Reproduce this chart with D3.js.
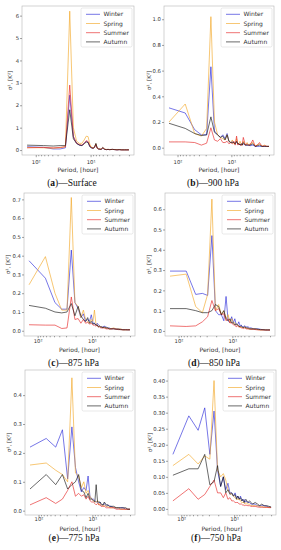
<!DOCTYPE html>
<html>
<head>
<meta charset="utf-8">
<script src="https://cdn.jsdelivr.net/npm/d3@7"></script>
<style>
  body { margin: 0; background: #fff; }
  svg { display: block; }
</style>
</head>
<body>
<script>
// periods of the spectrum, hours (144 / k)
const PERIODS = [144, 72, 48, 36, 28.8, 24, 20.6, 18, 16, 14.4, 13.1, 12, 11.1, 10.3, 9.6, 9, 8.5, 8,
  7.6, 7.2, 6.9, 6.5, 6.3, 6, 5.5, 5.1, 4.8, 4.5, 4, 3.6, 3.3, 3, 2.7, 2.4, 2.2, 2];

const SEASONS = ['Winter', 'Spring', 'Summer', 'Autumn'];

// one list per season, in SEASONS order
const SURFACE = [
  [0.15,0.12,0.05,0.05,0.1,2.45,0.6,0.3,0.22,0.2,0.3,0.4,0.35,0.15,0.1,0.08,0.12,0.25,0.1,0.05,0.04,0.03,0.04,0.08,0.03,0.02,0.03,0.02,0.03,0.02,0.01,0.02,0.01,0.01,0.01,0.01],
  [0.12,0.1,0.08,0.1,0.15,6.2,1.0,0.4,0.3,0.3,0.45,0.62,0.6,0.25,0.12,0.1,0.15,0.28,0.1,0.06,0.05,0.04,0.05,0.1,0.04,0.03,0.03,0.02,0.03,0.02,0.02,0.02,0.01,0.01,0.01,0.01],
  [0.1,0.12,0.1,0.12,0.15,2.9,0.6,0.3,0.25,0.22,0.3,0.42,0.38,0.18,0.1,0.08,0.12,0.25,0.08,0.05,0.05,0.04,0.05,0.1,0.03,0.02,0.03,0.02,0.03,0.02,0.01,0.02,0.01,0.01,0.01,0.01],
  [0.22,0.2,0.18,0.2,0.2,1.8,0.5,0.3,0.22,0.2,0.28,0.36,0.33,0.15,0.1,0.08,0.12,0.3,0.1,0.05,0.04,0.03,0.04,0.12,0.03,0.02,0.03,0.02,0.03,0.02,0.01,0.02,0.01,0.01,0.01,0.01]
];
const HPA_900 = [
  [0.31,0.27,0.14,0.1,0.1,0.63,0.13,0.1,0.08,0.1,0.07,0.11,0.05,0.04,0.05,0.04,0.03,0.04,0.03,0.03,0.02,0.03,0.02,0.03,0.02,0.02,0.02,0.015,0.02,0.01,0.01,0.01,0.01,0.01,0.01,0.01],
  [0.2,0.34,0.11,0.09,0.15,1.02,0.2,0.1,0.08,0.07,0.06,0.1,0.05,0.04,0.06,0.03,0.03,0.07,0.03,0.03,0.05,0.02,0.02,0.05,0.02,0.04,0.02,0.03,0.04,0.015,0.02,0.03,0.01,0.02,0.01,0.01],
  [0.045,0.045,0.04,0.02,0.035,0.155,0.06,0.05,0.07,0.04,0.04,0.05,0.03,0.04,0.03,0.05,0.02,0.09,0.02,0.03,0.02,0.02,0.02,0.08,0.02,0.03,0.02,0.02,0.06,0.01,0.02,0.04,0.01,0.015,0.01,0.01],
  [0.19,0.15,0.11,0.095,0.1,0.24,0.12,0.1,0.08,0.09,0.06,0.1,0.05,0.04,0.04,0.04,0.03,0.05,0.03,0.03,0.02,0.03,0.02,0.04,0.02,0.02,0.02,0.02,0.03,0.01,0.015,0.02,0.01,0.01,0.01,0.01]
];
const HPA_875 = [
  [0.373,0.28,0.15,0.115,0.115,0.43,0.15,0.12,0.07,0.09,0.05,0.06,0.05,0.085,0.04,0.04,0.03,0.04,0.03,0.025,0.02,0.02,0.02,0.025,0.02,0.015,0.015,0.01,0.012,0.01,0.01,0.008,0.006,0.006,0.005,0.005],
  [0.245,0.395,0.2,0.11,0.11,0.71,0.15,0.13,0.07,0.11,0.06,0.05,0.04,0.06,0.05,0.11,0.04,0.03,0.02,0.025,0.02,0.02,0.015,0.02,0.015,0.015,0.01,0.01,0.015,0.01,0.01,0.01,0.005,0.005,0.005,0.005],
  [0.032,0.03,0.03,0.012,0.015,0.18,0.06,0.065,0.04,0.06,0.04,0.045,0.035,0.04,0.03,0.03,0.025,0.03,0.02,0.02,0.015,0.015,0.015,0.015,0.01,0.01,0.01,0.01,0.01,0.008,0.006,0.006,0.005,0.005,0.005,0.005],
  [0.135,0.12,0.1,0.095,0.1,0.145,0.08,0.13,0.08,0.06,0.05,0.07,0.04,0.05,0.035,0.04,0.03,0.03,0.02,0.025,0.02,0.02,0.015,0.02,0.015,0.015,0.01,0.01,0.01,0.008,0.008,0.006,0.005,0.005,0.005,0.005]
];
const HPA_850 = [
  [0.295,0.295,0.18,0.185,0.175,0.47,0.1,0.08,0.08,0.05,0.17,0.05,0.04,0.07,0.04,0.06,0.03,0.03,0.045,0.025,0.03,0.02,0.02,0.025,0.02,0.02,0.015,0.015,0.01,0.01,0.01,0.008,0.006,0.005,0.005,0.005],
  [0.27,0.28,0.12,0.09,0.18,0.65,0.1,0.13,0.08,0.1,0.06,0.08,0.04,0.06,0.04,0.04,0.03,0.03,0.02,0.02,0.02,0.015,0.015,0.02,0.015,0.01,0.01,0.01,0.01,0.008,0.006,0.005,0.005,0.005,0.005,0.005],
  [0.025,0.022,0.025,0.045,0.07,0.15,0.1,0.11,0.08,0.085,0.05,0.06,0.04,0.04,0.03,0.03,0.02,0.025,0.02,0.02,0.015,0.015,0.012,0.015,0.01,0.01,0.01,0.008,0.008,0.006,0.005,0.005,0.005,0.004,0.004,0.004],
  [0.11,0.11,0.1,0.09,0.09,0.1,0.13,0.12,0.08,0.1,0.06,0.05,0.06,0.04,0.04,0.03,0.035,0.03,0.025,0.02,0.025,0.02,0.015,0.02,0.015,0.015,0.01,0.01,0.01,0.01,0.008,0.006,0.006,0.005,0.005,0.005]
];
const HPA_775 = [
  [0.22,0.25,0.22,0.28,0.11,0.29,0.15,0.1,0.065,0.08,0.07,0.12,0.05,0.04,0.04,0.035,0.03,0.03,0.025,0.03,0.02,0.02,0.02,0.025,0.015,0.02,0.015,0.015,0.01,0.01,0.01,0.01,0.01,0.005,0.005,0.005],
  [0.158,0.165,0.14,0.125,0.1,0.46,0.13,0.12,0.08,0.1,0.06,0.07,0.05,0.04,0.035,0.03,0.03,0.035,0.02,0.025,0.02,0.02,0.015,0.02,0.015,0.015,0.01,0.01,0.01,0.01,0.01,0.005,0.005,0.005,0.005,0.005],
  [0.02,0.045,0.025,0.04,0.07,0.1,0.05,0.06,0.05,0.055,0.04,0.05,0.035,0.03,0.03,0.025,0.02,0.025,0.02,0.02,0.015,0.015,0.015,0.015,0.01,0.01,0.01,0.01,0.01,0.005,0.005,0.005,0.005,0.005,0.005,0.005],
  [0.075,0.125,0.09,0.125,0.075,0.09,0.1,0.125,0.07,0.065,0.045,0.06,0.04,0.04,0.035,0.03,0.09,0.03,0.03,0.03,0.025,0.02,0.02,0.03,0.02,0.02,0.015,0.015,0.015,0.01,0.01,0.01,0.01,0.01,0.005,0.005]
];
const HPA_750 = [
  [0.17,0.29,0.245,0.315,0.17,0.305,0.12,0.07,0.1,0.06,0.08,0.05,0.05,0.04,0.05,0.035,0.04,0.03,0.04,0.03,0.025,0.03,0.02,0.025,0.02,0.02,0.015,0.015,0.015,0.01,0.01,0.01,0.01,0.008,0.005,0.005],
  [0.135,0.17,0.14,0.165,0.155,0.4,0.12,0.1,0.11,0.09,0.06,0.05,0.045,0.04,0.035,0.03,0.03,0.03,0.025,0.02,0.02,0.02,0.015,0.02,0.015,0.015,0.01,0.01,0.01,0.01,0.008,0.008,0.005,0.005,0.005,0.005],
  [0.025,0.063,0.03,0.045,0.07,0.09,0.05,0.05,0.035,0.05,0.03,0.035,0.025,0.025,0.02,0.02,0.02,0.015,0.015,0.015,0.012,0.012,0.01,0.012,0.01,0.01,0.008,0.008,0.008,0.006,0.005,0.005,0.005,0.005,0.004,0.004],
  [0.105,0.125,0.125,0.17,0.075,0.085,0.135,0.07,0.1,0.05,0.06,0.045,0.05,0.04,0.045,0.03,0.04,0.03,0.035,0.025,0.03,0.02,0.025,0.03,0.02,0.025,0.02,0.015,0.02,0.015,0.01,0.015,0.01,0.01,0.008,0.006]
];

const X_TICKS = [100, 10];
const X_TICK_LABELS = ['10\u00b2', '10\u00b9'];
const X_MINOR = [2, 3, 4, 5, 6, 7, 8, 9, 20, 30, 40, 50, 60, 70, 80, 90];

const Y_TICKS_SURFACE = [0, 1, 2, 3, 4, 5, 6];
const Y_TICKS_900 = [0, 0.2, 0.4, 0.6, 0.8, 1.0];
const Y_TICKS_875 = [0, 0.1, 0.2, 0.3, 0.4, 0.5, 0.6, 0.7];
const Y_TICKS_850 = [0, 0.1, 0.2, 0.3, 0.4, 0.5, 0.6];
const Y_TICKS_775 = [0, 0.1, 0.2, 0.3, 0.4];
const Y_TICKS_750 = [0, 0.05, 0.1, 0.15, 0.2, 0.25, 0.3, 0.35, 0.4];

const CAPTION_LETTERS = ['a', 'b', 'c', 'd', 'e', 'f'];
const CAPTION_NAMES = ['Surface', '900 hPa', '875 hPa', '850 hPa', '775 hPa', '750 hPa'];

const COLORS = ['#2626d9', '#f2a623', '#e62222', '#111111'];

const W = 281, H = 550;

// layout of each subplot (frame in px, y range, label offsets)
const PANELS = [
  { L: 22, R: 134, T: 6, B: 155, yLo: -0.22, yHi: 6.43, yl: 10.5, tk: 8, xl: 14.5, cap: 28, data: SURFACE, ticks: Y_TICKS_SURFACE, fmt: d3.format('d') },
  { L: 164, R: 274, T: 6, B: 155, yLo: -0.057, yHi: 1.103, yl: 149.5, tk: 8, xl: 14.5, cap: 28, data: HPA_900, ticks: Y_TICKS_900, fmt: d3.format('.1f') },
  { L: 24, R: 135, T: 193, B: 336, yLo: -0.028, yHi: 0.734, yl: 8, tk: 6, xl: 14, cap: 26.5, data: HPA_875, ticks: Y_TICKS_875, fmt: d3.format('.1f') },
  { L: 165, R: 275, T: 193, B: 336, yLo: -0.025, yHi: 0.68, yl: 149.5, tk: 6, xl: 14, cap: 26.5, data: HPA_850, ticks: Y_TICKS_850, fmt: d3.format('.1f') },
  { L: 25, R: 135, T: 370, B: 515, yLo: -0.015, yHi: 0.487, yl: 9, tk: 5, xl: 13.5, cap: 22.5, data: HPA_775, ticks: Y_TICKS_775, fmt: d3.format('.1f') },
  { L: 168, R: 276, T: 370, B: 515, yLo: -0.019, yHi: 0.433, yl: 150, tk: 5, xl: 13.5, cap: 22.5, data: HPA_750, ticks: Y_TICKS_750, fmt: d3.format('.2f') }
];

// log x-axis, reversed, with 5% padding in log space
const logMax = Math.log10(d3.max(PERIODS));
const logMin = Math.log10(d3.min(PERIODS));
const pad = (logMax - logMin) * 0.05;
const X_DOMAIN = [Math.pow(10, logMax + pad), Math.pow(10, logMin - pad)];

const svg = d3.select('body').append('svg')
  .attr('width', W)
  .attr('height', H)
  .attr('font-family', 'DejaVu Sans, sans-serif');

PANELS.forEach((p, pi) => {
  const g = svg.append('g');

  const x = d3.scaleLog().domain(X_DOMAIN).range([p.L, p.R]);
  const y = d3.scaleLinear().domain([p.yLo, p.yHi]).range([p.B, p.T]);

  // frame
  g.append('rect')
    .attr('x', p.L).attr('y', p.T)
    .attr('width', p.R - p.L).attr('height', p.B - p.T)
    .attr('fill', '#fff')
    .attr('stroke', '#b5b5b5')
    .attr('stroke-width', 0.6);

  // x axis
  const xAxis = g.append('g')
    .attr('transform', `translate(0, ${p.B})`)
    .call(d3.axisBottom(x).tickValues(X_TICKS).tickFormat((d, i) => X_TICK_LABELS[i]).tickSize(2.2).tickPadding(p.tk - 4.5));
  const xMinor = g.append('g')
    .attr('transform', `translate(0, ${p.B})`)
    .call(d3.axisBottom(x).tickValues(X_MINOR).tickFormat('').tickSize(1.3));

  // y axis
  const yAxis = g.append('g')
    .attr('transform', `translate(${p.L}, 0)`)
    .call(d3.axisLeft(y).tickValues(p.ticks).tickFormat(p.fmt).tickSize(2).tickPadding(1));

  [xAxis, xMinor, yAxis].forEach(a => {
    a.select('.domain').remove();
    a.selectAll('line').attr('stroke', '#444').attr('stroke-width', 0.5);
    a.selectAll('text').attr('font-size', 5.3).attr('fill', '#333').attr('font-family', 'DejaVu Sans, sans-serif');
  });

  // lines
  const line = d3.line()
    .x((d, i) => x(PERIODS[i]))
    .y(d => y(d));

  p.data.forEach((vals, si) => {
    g.append('path')
      .datum(vals)
      .attr('d', line)
      .attr('fill', 'none')
      .attr('stroke', COLORS[si])
      .attr('stroke-opacity', 0.7)
      .attr('stroke-width', 0.9)
      .attr('stroke-linejoin', 'round');
  });

  // legend
  const lw = 51, lh = 39;
  const lx = p.R - 2 - lw, ly = p.T + 2;
  const leg = g.append('g');
  leg.append('rect')
    .attr('x', lx).attr('y', ly)
    .attr('width', lw).attr('height', lh)
    .attr('rx', 1.5)
    .attr('fill', '#fff').attr('fill-opacity', 0.85)
    .attr('stroke', '#d0d0d0').attr('stroke-width', 0.5);
  SEASONS.forEach((s, si) => {
    const cy = ly + 6.3 + si * 9.2;
    leg.append('line')
      .attr('x1', lx + 5).attr('x2', lx + 19)
      .attr('y1', cy).attr('y2', cy)
      .attr('stroke', COLORS[si]).attr('stroke-opacity', 0.7).attr('stroke-width', 0.9);
    leg.append('text')
      .attr('x', lx + 22.5).attr('y', cy)
      .attr('dy', '0.35em')
      .attr('font-size', 6)
      .attr('fill', '#333')
      .text(s);
  });

  // axis labels
  const cx = (p.L + p.R) / 2;
  g.append('text')
    .attr('x', cx).attr('y', p.B + p.xl)
    .attr('dy', '0.35em')
    .attr('text-anchor', 'middle')
    .attr('font-size', 6)
    .attr('fill', '#333')
    .text('Period, [hour]');

  g.append('text')
    .attr('transform', `translate(${p.yl}, ${(p.T + p.B) / 2}) rotate(-90)`)
    .attr('dy', '0.35em')
    .attr('text-anchor', 'middle')
    .attr('font-size', 5.6)
    .attr('fill', '#333')
    .text('\u03c3\u00b2, [K\u00b2]');

  // caption
  const cap = g.append('text')
    .attr('x', cx - 6).attr('y', p.B + p.cap)
    .attr('dy', '0.35em')
    .attr('text-anchor', 'middle')
    .attr('font-family', 'Liberation Serif, serif')
    .attr('font-size', 9.5)
    .attr('fill', '#111');
  cap.append('tspan').text('(');
  cap.append('tspan').attr('font-weight', 'bold').text(CAPTION_LETTERS[pi]);
  cap.append('tspan').text(')\u2014' + CAPTION_NAMES[pi]);
});
</script>
</body>
</html>
